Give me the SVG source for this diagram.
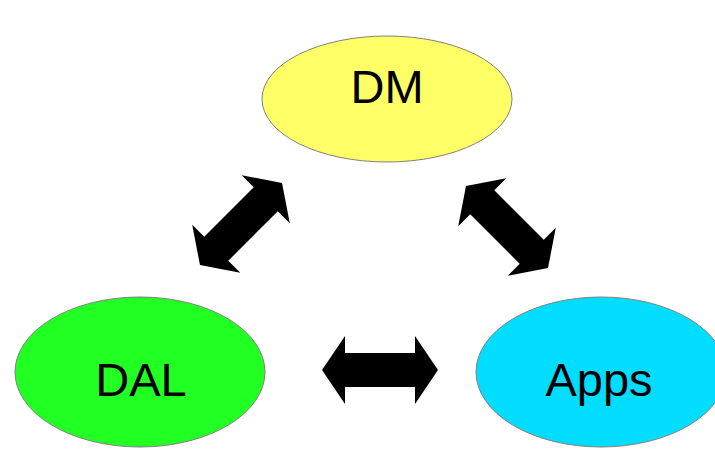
<svg xmlns="http://www.w3.org/2000/svg" width="715" height="449" viewBox="0 0 715 449">
<style>
.node{stroke:#808080;stroke-width:1}
.lbl{font-family:"Liberation Sans",Arial,sans-serif;font-size:47px;fill:#000;text-anchor:middle}
.arr{fill:#000}
</style>
<defs>
<path id="dbl" d="M -58,0 L -35,-34 L -35,-17 L 35,-17 L 35,-34 L 58,0 L 35,34 L 35,17 L -35,17 L -35,34 Z"/>
</defs>
<rect width="715" height="449" fill="#fff"/>
<g id="connectors" class="arr">
<use href="#dbl" transform="translate(241,224) rotate(-45)"/>
<use href="#dbl" transform="translate(507,227) rotate(45)"/>
<use href="#dbl" transform="translate(380,370)"/>
</g>
<g id="DM">
<ellipse class="node" cx="387" cy="99" rx="125" ry="63" fill="#ffff66"/>
<text class="lbl" x="387" y="103">DM</text>
</g>
<g id="DAL">
<ellipse class="node" cx="140" cy="372" rx="125" ry="75" fill="#22ff22"/>
<text class="lbl" x="141" y="396">DAL</text>
</g>
<g id="Apps">
<ellipse class="node" cx="601" cy="372" rx="125" ry="75" fill="#00ddff"/>
<text class="lbl" x="599" y="396">Apps</text>
</g>
</svg>
